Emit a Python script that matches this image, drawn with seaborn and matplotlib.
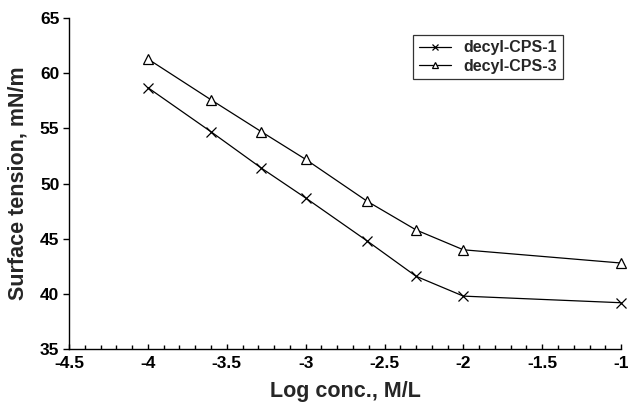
import pandas as pd
import numpy as np
import matplotlib
matplotlib.use("Agg")
import matplotlib.pyplot as plt
from matplotlib.ticker import MultipleLocator
import seaborn as sns

# data
log_conc = [-4.0, -3.6, -3.28, -3.0, -2.61, -2.3, -2.0, -1.0]
cps1 = [58.7, 54.7, 51.4, 48.7, 44.8, 41.6, 39.8, 39.2]
cps3 = [61.3, 57.6, 54.7, 52.2, 48.4, 45.8, 44.0, 42.8]
series_names = ['decyl-CPS-1', 'decyl-CPS-3']
series_markers = ['x', '^']

sns.set_style("white")
plt.rcParams['font.family'] = ['Liberation Sans', 'DejaVu Sans']
plt.rcParams['font.weight'] = 'bold'

fig = plt.figure(figsize=(6.28, 4.04), dpi=100)
ax = fig.add_axes([0.110, 0.136, 0.879, 0.819])

for name, vals, mk in zip(series_names, [cps1, cps3], series_markers):
    sns.lineplot(x=log_conc, y=vals, ax=ax, label=name, color='black',
                 marker=mk, linewidth=0.9, markersize=7,
                 markerfacecolor='white', markeredgecolor='black',
                 markeredgewidth=0.9, clip_on=False)

ax.set_xlim(-4.5, -1)
ax.set_ylim(35, 65)
ax.xaxis.set_minor_locator(MultipleLocator(0.1))
ax.yaxis.set_major_locator(MultipleLocator(5))
ax.set_xticks(np.arange(-4.5, -0.99, 0.5))
ax.set_xticklabels([f'{v:g}' for v in np.arange(-4.5, -0.99, 0.5)])

for s in ['top', 'right']:
    ax.spines[s].set_visible(False)
for s in ['left', 'bottom']:
    ax.spines[s].set_color('black')
    ax.spines[s].set_linewidth(1.0)

ax.tick_params(axis='x', which='major', direction='in', length=3.5, width=1,
               colors='black', labelsize=12.5, pad=5, bottom=True)
ax.tick_params(axis='x', which='minor', direction='in', length=3, width=1,
               colors='black', bottom=True)
ax.tick_params(axis='y', which='major', direction='out', length=4, width=1,
               colors='black', labelsize=12.5, pad=3, left=True)

ax.set_xlabel('Log conc., M/L', fontsize=15.5, fontweight='bold', labelpad=7)
ax.set_ylabel('Surface tension, mN/m', fontsize=15.5, fontweight='bold', labelpad=8)

leg = ax.legend(loc='upper left', bbox_to_anchor=(0.623, 0.95), frameon=True,
                fancybox=False, edgecolor='black', fontsize=11.5,
                handlelength=2.0, borderpad=0.35, labelspacing=0.2,
                handletextpad=0.8, markerscale=0.6, borderaxespad=0)
leg.get_frame().set_linewidth(0.9)
for t in leg.get_texts():
    t.set_fontweight('bold')

fig.savefig('out.png', dpi=100, facecolor='white')
